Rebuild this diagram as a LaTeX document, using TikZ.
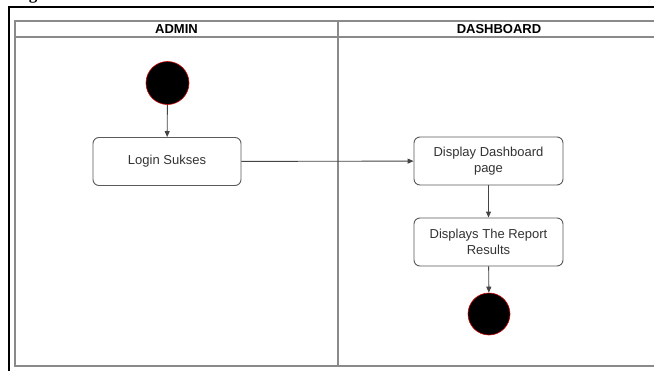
\documentclass[tikz,border=0pt]{standalone}
\usepackage{fontspec}
\setmainfont{Liberation Sans}
\newfontfamily\captionserif{Liberation Serif}
\usetikzlibrary{arrows.meta}
\definecolor{laneline}{HTML}{8A8A8A}
\definecolor{boxline}{HTML}{5A5A5A}
\definecolor{flowline}{HTML}{444444}
\definecolor{labeltext}{HTML}{333333}
\tikzset{
  activity/.style={draw=boxline, line width=0.9pt, rounded corners=6pt, fill=white,
    minimum width=148pt, minimum height=48pt, align=center, text=labeltext,
    font=\fontsize{13}{16.5}\selectfont, inner sep=2pt},
  terminal/.style={circle, fill=black, draw=red!80!black, line width=0.6pt,
    minimum size=43pt, inner sep=0pt},
  flow/.style={draw=flowline, line width=0.9pt, -{Triangle[length=6pt,width=5pt]}},
  lanehead/.style={font=\bfseries\fontsize{13}{15}\selectfont, text=black},
}
\begin{document}
\begin{tikzpicture}[x=1pt, y=-1pt]
  \useasboundingbox (0,0) rectangle (654,370);
  \fill[white] (0,0) rectangle (654,370);

  % tail of the caption line above the frame
  \node[anchor=base, inner sep=0pt, font=\captionserif\bfseries\fontsize{17}{17}\selectfont] (capg) at (33,-0.5) {g};

  % outer frame
  \draw[black, line width=1.5pt] (9,380) -- (9,7) -- (670,7);

  % swimlane frame, header and divider
  \draw[laneline, line width=1.2pt] (670,21) -- (15,21) -- (15,366) -- (670,366);
  \draw[laneline, line width=1.2pt] (15,37) -- (670,37);
  \draw[laneline, line width=1.2pt] (338,21) -- (338,366);

  \node[lanehead] (admin) at (176.5,29.5) {ADMIN};
  \node[lanehead] (dash) at (499,29.5) {DASHBOARD};

  % activity flow
  \node[terminal] (start) at (167.5,83) {};
  \node[activity] (login) at (167,161.5) {Login Sukses};
  \node[activity, minimum width=149pt] (display) at (488.5,161) {Display Dashboard\\page};
  \node[activity, minimum width=149pt] (report) at (488.5,242) {Displays The Report\\Results};
  \node[terminal, minimum size=42pt] (finish) at (489,314) {};

  \draw[flow] (start) -- (login);
  \draw[flow] (login) -- (display);
  \draw[flow] (display) -- (report);
  \draw[flow] (report) -- (finish);
\end{tikzpicture}
\end{document}
